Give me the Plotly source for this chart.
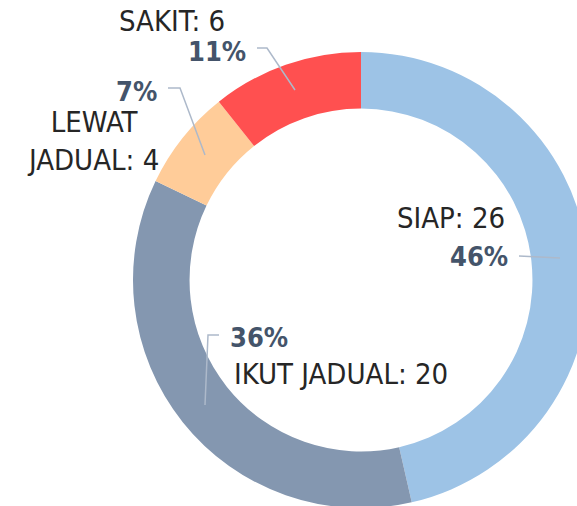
import plotly.graph_objects as go

# ---- data ----
categories = ["SIAP", "IKUT JADUAL", "LEWAT JADUAL", "SAKIT"]
values = [26, 20, 4, 6]
colors = ["#9DC3E6", "#8497B0", "#FFCC99", "#FF5050"]

total = sum(values)
percents = [round(v / total * 100) for v in values]

# ---- canvas (slightly wider/taller than the window; donut is clipped at the edge like the reference) ----
W, H = 589, 508
CX, CY, R = 361, 280, 228

def px(x):
    return x / W

def py(y):
    return 1 - y / H

fig = go.Figure()
fig.add_trace(go.Pie(
    labels=categories,
    values=values,
    marker=dict(colors=colors, line=dict(width=0)),
    hole=0.752,
    sort=False,
    direction="clockwise",
    rotation=0,
    textinfo="none",
    hoverinfo="label+value+percent",
    domain=dict(x=[px(CX - R), px(CX + R)], y=[py(CY + R), py(CY - R)]),
    showlegend=False,
))

FAMILY = "DejaVu Sans Condensed, DejaVu Sans"
LABEL_FONT = dict(family=FAMILY, size=29, color="#262626")
PCT_FONT = dict(family=FAMILY, size=27, color="#44546A")

# label placement (pixel positions) for each category
place = {
    "SIAP": dict(name=(507, 218, "right"), pct=(510, 256, "right"),
                 line=[(519, 256), (560, 258)]),
    "IKUT JADUAL": dict(name=(232, 374, "left"), pct=(228, 337, "left"),
                        line=[(219, 335), (208, 335), (205, 405)]),
    "LEWAT JADUAL": dict(name=(93, 141, "center"), pct=(159, 91, "right"),
                         line=[(168, 88), (180, 88), (205, 155)]),
    "SAKIT": dict(name=(172, 21, "center"), pct=(248, 51, "right"),
                  line=[(257, 48), (267, 48), (295, 90)]),
}

for cat, v, p in zip(categories, values, percents):
    pl = place[cat]
    nx, ny, na = pl["name"]
    name = cat
    if cat == "LEWAT JADUAL":
        name = "LEWAT<br>JADUAL"
    fig.add_annotation(
        x=px(nx), y=py(ny), xref="paper", yref="paper",
        text=f"{name}: {v}", showarrow=False,
        xanchor=na, yanchor="middle", align="center",
        font=LABEL_FONT,
    )
    tx, ty, ta = pl["pct"]
    fig.add_annotation(
        x=px(tx), y=py(ty), xref="paper", yref="paper",
        text=f"<b>{p}%</b>", showarrow=False,
        xanchor=ta, yanchor="middle",
        font=PCT_FONT,
    )
    pts = pl["line"]
    path = "M " + " L ".join(f"{px(a)},{py(b)}" for a, b in pts)
    fig.add_shape(type="path", path=path, xref="paper", yref="paper",
                  line=dict(color="#ADB9CA", width=1.5))

fig.update_layout(
    width=W, height=H,
    margin=dict(l=0, r=0, t=0, b=0),
    paper_bgcolor="white",
    plot_bgcolor="white",
)

fig.write_html(
    "out.html",
    config={"displayModeBar": False},
    post_script="document.body.style.margin='0';document.body.style.overflow='hidden';",
)
